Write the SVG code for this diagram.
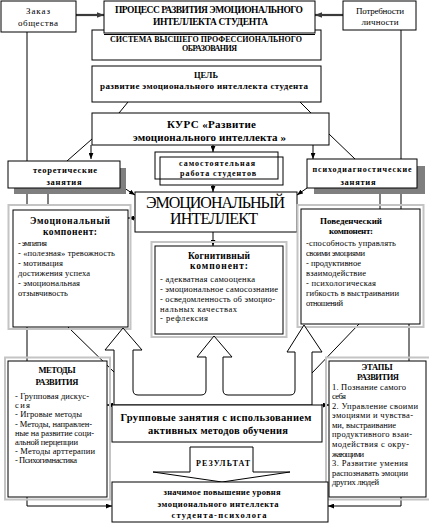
<svg xmlns="http://www.w3.org/2000/svg" width="429" height="526" viewBox="0 0 429 526" font-family="Liberation Serif, DejaVu Serif, serif">
<style>
.box{fill:#fff;stroke:#000;stroke-width:1}
.nof{fill:none;stroke:#000;stroke-width:1}
.frame{fill:none;stroke:#c4c4c4;stroke-width:2}
.shadow{fill:#7f7f7f}
.ln{fill:none;stroke:#000;stroke-width:1}
.thk{fill:none;stroke:#3a3a3a;stroke-width:2.2}
text{font-family:"Liberation Serif","DejaVu Serif",serif;fill:#000}
.b{font-weight:bold}
.c{text-anchor:middle}
.s8{font-size:8px}
.s85{font-size:8.5px}
.s9{font-size:9px}
.s95{font-size:9.5px}
.s10{font-size:10.5px}
.s11{font-size:11px}
.s16{font-size:16px}
</style>
<defs>
<marker id="ah" viewBox="0 0 10 8" refX="10" refY="4" markerWidth="6" markerHeight="5" orient="auto" markerUnits="userSpaceOnUse"><path d="M0,0 L10,4 L0,8 z" fill="#000"/></marker>
<marker id="ahT" viewBox="0 0 10 8" refX="10" refY="4" markerWidth="7" markerHeight="6" orient="auto" markerUnits="userSpaceOnUse"><path d="M0,0 L10,4 L0,8 z" fill="#3a3a3a"/></marker>
</defs>
<rect width="429" height="526" fill="#fff"/>

<g id="connectors">
<line class="thk" x1="76" y1="15" x2="104" y2="15" marker-end="url(#ahT)"/>
<line class="thk" x1="343" y1="15" x2="315" y2="15" marker-end="url(#ahT)"/>
<line class="ln" x1="27" y1="32" x2="27" y2="205"/>
<line class="ln" x1="48" y1="188" x2="48" y2="205"/>
<line class="ln" x1="401" y1="30" x2="401" y2="209"/>
<line class="ln" x1="380" y1="188" x2="380" y2="209"/>
<line class="ln" x1="128" y1="102" x2="119" y2="113"/>
<line class="ln" x1="300" y1="102" x2="311" y2="113"/>
<line class="ln" x1="92" y1="139" x2="67" y2="161"/>
<line class="ln" x1="91" y1="145" x2="91" y2="159" marker-end="url(#ah)"/>
<line class="ln" x1="329" y1="134" x2="355" y2="159"/>
<line class="ln" x1="313" y1="145" x2="313" y2="159" marker-end="url(#ah)"/>
<line class="ln" x1="213" y1="145" x2="213" y2="152" marker-end="url(#ah)"/>
<line class="ln" x1="213" y1="185" x2="213" y2="192" marker-end="url(#ah)"/>
<line class="ln" x1="121" y1="186" x2="135" y2="195" marker-end="url(#ah)"/>
<line class="ln" x1="307" y1="188" x2="297" y2="195" marker-end="url(#ah)"/>
<line class="ln" x1="135" y1="218" x2="128" y2="218" marker-end="url(#ah)"/>
<line class="ln" x1="213" y1="232" x2="213" y2="246" marker-end="url(#ah)"/>
<line class="ln" x1="68" y1="327" x2="115" y2="373"/>
<line class="ln" x1="27" y1="327" x2="27" y2="361"/>
<line class="ln" x1="359" y1="324" x2="312" y2="373"/>
<line class="ln" x1="409" y1="324" x2="409" y2="361"/>
<path class="ln" d="M27,497 V506 H112" marker-end="url(#ah)"/>
<path class="ln" d="M401,497 V506 H328" marker-end="url(#ah)"/>
<line class="ln" x1="113" y1="405" x2="107" y2="405" marker-end="url(#ah)"/>
<line class="ln" x1="321" y1="405" x2="329" y2="405" marker-end="url(#ah)"/>
</g>

<g id="n-zakaz">
<rect class="box" x="1" y="1" width="75" height="31"/>
<text class="s9 c" x="38" y="14" textLength="24">Заказ</text>
<text class="s9 c" x="38" y="26" textLength="40">общества</text>
</g>

<g id="n-potrebnosti">
<rect class="box" x="343" y="1" width="73" height="29"/>
<text class="s9 c" x="380" y="13.5" textLength="48">Потребности</text>
<text class="s9 c" x="380" y="24.5" textLength="37">личности</text>
</g>

<g id="n-sistema">
<rect class="box" x="92" y="30" width="229" height="30"/>
<text class="s8 b c" x="206" y="41.5" textLength="192">СИСТЕМА ВЫСШЕГО ПРОФЕССИОНАЛЬНОГО</text>
<text class="s8 b c" x="209.5" y="51" textLength="55">ОБРАЗОВАНИЯ</text>
</g>

<g id="n-process">
<rect class="box" x="104" y="1" width="211" height="32"/>
<line class="ln" x1="104" y1="34.5" x2="315" y2="34.5"/>
<text class="s95 b c" x="209" y="12.5" textLength="188">ПРОЦЕСС РАЗВИТИЯ ЭМОЦИОНАЛЬНОГО</text>
<text class="s95 b c" x="210.5" y="24.5" textLength="115">ИНТЕЛЛЕКТА СТУДЕНТА</text>
</g>

<g id="n-cel">
<rect class="box" x="92" y="66" width="229" height="36"/>
<text class="s85 b c" x="206" y="78" textLength="24">ЦЕЛЬ</text>
<text class="s9 b c" x="204" y="88.5" textLength="208">развитие эмоционального интеллекта студента</text>
</g>

<g id="n-kurs">
<rect class="box" x="92" y="113" width="237" height="32"/>
<text class="s11 b c" x="211.5" y="128" textLength="89">КУРС «Развитие</text>
<text class="s11 b c" x="209.5" y="140.5" textLength="153">эмоционального интеллекта »</text>
</g>

<g id="n-teor">
<rect class="shadow" x="14" y="168" width="112" height="26"/>
<rect class="box" x="8" y="161" width="112" height="27"/>
<text class="s85 b c" x="65" y="172.5" textLength="64">теоретические</text>
<text class="s85 b c" x="64" y="184.5" textLength="35">занятия</text>
</g>

<g id="n-psycho">
<rect class="shadow" x="314" y="166" width="111" height="28"/>
<rect class="box" x="307" y="159" width="110" height="29"/>
<text class="s8 b c" x="362" y="172" textLength="99">психодиагностические</text>
<text class="s85 b c" x="358" y="184.5" textLength="35">занятия</text>
</g>

<g id="n-samost">
<rect x="155" y="152" width="128" height="33" fill="#fff"/>
<rect class="nof" x="155" y="152" width="123" height="27"/>
<rect class="nof" x="160" y="157" width="123" height="28"/>
<text class="s8 b c" x="217" y="166" textLength="76">самостоятельная</text>
<text class="s8 b c" x="218" y="176" textLength="76">работа студентов</text>
</g>

<g id="n-ei">
<rect class="box" x="135" y="192" width="162" height="40"/>
<text class="s16 c" x="215.5" y="208" textLength="139">ЭМОЦИОНАЛЬНЫЙ</text>
<text class="s16 c" x="214" y="224" textLength="88">ИНТЕЛЛЕКТ</text>
</g>

<g id="n-emo">
<rect class="frame" x="8.5" y="205" width="122" height="124"/>
<rect class="box" x="13" y="210" width="115" height="117"/>
<text class="s95 b c" x="70" y="224" textLength="80">Эмоциональный</text>
<text class="s95 b c" x="70" y="235" textLength="54">компонент:</text>
<text class="s85" x="18" y="246" textLength="29">- эмпатия</text>
<text class="s85" x="18" y="256" textLength="97">- «полезная» тревожность</text>
<text class="s85" x="18" y="266" textLength="45">- мотивация</text>
<text class="s85" x="18" y="276" textLength="72">достижения успеха</text>
<text class="s85" x="18" y="286" textLength="62">- эмоциональная</text>
<text class="s85" x="18" y="296" textLength="50">отзывчивость</text>
</g>

<g id="n-cog">
<rect class="frame" x="151.5" y="242" width="135" height="95"/>
<rect class="box" x="155" y="246" width="128" height="88"/>
<text class="s95 b c" x="219" y="259" textLength="62">Когнитивный</text>
<text class="s95 b c" x="219" y="269" textLength="58">компонент:</text>
<text class="s85" x="160" y="282" textLength="95">- адекватная самооценка</text>
<text class="s85" x="160" y="292" textLength="118">- эмоциональное самосознание</text>
<text class="s85" x="160" y="302" textLength="115">- осведомленность об эмоцио-</text>
<text class="s85" x="160" y="311.5" textLength="77">нальных качествах</text>
<text class="s85" x="160" y="321" textLength="48">- рефлексия</text>
</g>

<g id="n-beh">
<rect class="frame" x="297.5" y="205" width="126" height="122"/>
<rect class="box" x="301" y="209" width="119" height="115"/>
<text class="s9 b c" x="351" y="224" textLength="62">Поведенческий</text>
<text class="s9 b c" x="351" y="234" textLength="44">компонент:</text>
<text class="s85" x="306" y="246" textLength="90">-способность управлять</text>
<text class="s85" x="306" y="256" textLength="59">своими эмоциями</text>
<text class="s85" x="306" y="266" textLength="55">- продуктивное</text>
<text class="s85" x="306" y="276" textLength="60">взаимодействие</text>
<text class="s85" x="306" y="286" textLength="70">- психологическая</text>
<text class="s85" x="306" y="296" textLength="93">гибкость в выстраивании</text>
<text class="s85" x="306" y="306" textLength="37">отношений</text>
</g>

<g id="n-arrows">
<path d="M114,405 V350 H105 L123,328 L142,350 H133 V390 Q133,395 138,395 H201 Q206,395 206,390 V357 H197 L214,336 L232,357 H223 V390 Q223,395 228,395 H290 Q295,395 295,390 V352 H287 L304,325 L322,352 H312 V405 Z" fill="#fff" stroke="#000" stroke-width="1"/>
</g>

<g id="n-metody">
<rect class="frame" x="5" y="357.5" width="105" height="142"/>
<rect class="box" x="8" y="361" width="99" height="136"/>
<text class="s85 b c" x="57" y="373" textLength="37">МЕТОДЫ</text>
<text class="s85 b c" x="57" y="385" textLength="43">РАЗВИТИЯ</text>
<text class="s85" x="15" y="399" textLength="74">- Групповая дискус-</text>
<text class="s85" x="15" y="408.2" textLength="15">сия</text>
<text class="s85" x="15" y="417.4" textLength="67">- Игровые методы</text>
<text class="s85" x="15" y="426.6" textLength="77">- Методы, направлен-</text>
<text class="s85" x="15" y="435.8" textLength="79">ные на развитие соци-</text>
<text class="s85" x="15" y="445" textLength="63">альной перцепции</text>
<text class="s85" x="15" y="454.2" textLength="80">- Методы арттерапии</text>
<text class="s85" x="15" y="463.4" textLength="62">- Психогимнастика</text>
</g>

<g id="n-etapy">
<rect class="frame" x="326" y="357.5" width="104" height="142"/>
<rect class="box" x="329" y="361" width="97" height="136"/>
<text class="s85 b c" x="377" y="369.5" textLength="31">ЭТАПЫ</text>
<text class="s85 b c" x="378" y="379.5" textLength="42">РАЗВИТИЯ</text>
<text class="s85" x="332" y="389.5" textLength="74">1. Познание самого</text>
<text class="s85" x="332" y="399" textLength="14">себя</text>
<text class="s85" x="332" y="408.6" textLength="86">2. Управление своими</text>
<text class="s85" x="332" y="418.2" textLength="81">эмоциями и чувства-</text>
<text class="s85" x="332" y="427.8" textLength="64">ми, выстраивание</text>
<text class="s85" x="332" y="437.4" textLength="80">продуктивного взаи-</text>
<text class="s85" x="332" y="447" textLength="77">модействия с окру-</text>
<text class="s85" x="332" y="456.6" textLength="32">жающими</text>
<text class="s85" x="332" y="466.2" textLength="76">3. Развитие умения</text>
<text class="s85" x="332" y="475.8" textLength="76">распознавать эмоции</text>
<text class="s85" x="332" y="485.4" textLength="47">других людей</text>
</g>

<g id="n-group">
<rect class="box" x="112" y="405" width="210" height="37"/>
<text class="s10 b c" x="216" y="421" textLength="191">Групповые занятия с использованием</text>
<text class="s10 b c" x="218" y="434" textLength="140">активных методов обучения</text>
</g>

<g id="n-result-arrow">
<polygon points="190,447 253,447 253,472 290,472 222,482 153,472 190,472" fill="#fff" stroke="#000" stroke-width="1"/>
<text class="s8 b c" x="223" y="465.5" textLength="54">РЕЗУЛЬТАТ</text>
</g>

<g id="n-result">
<rect class="box" x="112" y="482" width="216" height="40"/>
<text class="s85 b c" x="222" y="494.5" textLength="117">значимое повышение уровня</text>
<text class="s85 b c" x="218" y="506.5" textLength="121">эмоционального интеллекта</text>
<text class="s85 b c" x="219" y="518" textLength="95">студента-психолога</text>
</g>
</svg>
